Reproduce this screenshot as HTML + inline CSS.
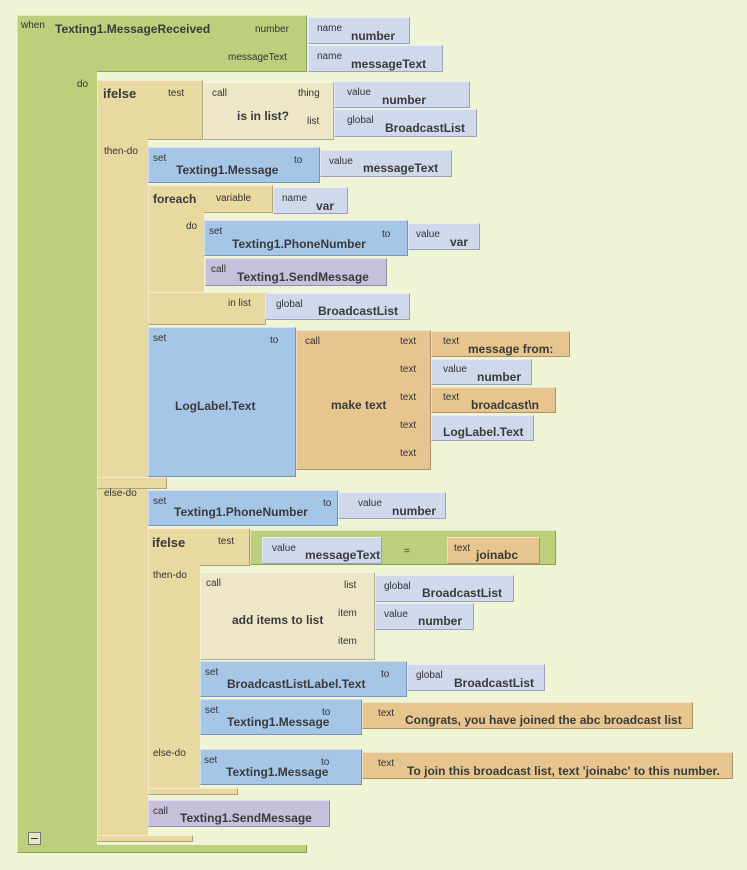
<!DOCTYPE html>
<html><head><meta charset="utf-8"><style>
body{margin:0;width:747px;height:870px;background:#eef4d4;position:relative;overflow:hidden;font-family:"Liberation Sans",sans-serif;color:#333}
.b{position:absolute;box-sizing:border-box;border:1px solid rgba(0,0,0,.25);border-top-color:rgba(255,255,255,.5);border-left-color:rgba(255,255,255,.4)}
.g{background:#bccf7c}.t{background:#e8d9a1}.c{background:#ede7c8}.bl{background:#a6c6e7}.l{background:#d0d8ec}.o{background:#e6c58f}.p{background:#c7c0dd}
.s{position:absolute;font-size:10px;color:#333;white-space:nowrap}
.k{position:absolute;font-size:12px;font-weight:bold;color:#3a3a3a;white-space:nowrap}
</style></head><body>
<!-- green event -->
<div class="b g" style="left:17px;top:15px;width:290px;height:57px"></div>
<div class="b g" style="left:17px;top:15px;width:80px;height:838px;border-right:none"></div>
<div class="b g" style="left:17px;top:845px;width:290px;height:8px;border-top:none"></div>
<div class="s" style="left:21px;top:20px">when</div>
<div class="k" style="left:55px;top:22px">Texting1.MessageReceived</div>
<div class="s" style="left:255px;top:24px">number</div>
<div class="s" style="left:228px;top:52px">messageText</div>
<div class="s" style="left:77px;top:79px">do</div>
<div class="b l" style="left:308px;top:17px;width:102px;height:27px"></div>
<div class="s" style="left:317px;top:23px">name</div><div class="k" style="left:351px;top:29px">number</div>
<div class="b l" style="left:308px;top:45px;width:135px;height:27px"></div>
<div class="s" style="left:317px;top:51px">name</div><div class="k" style="left:351px;top:57px">messageText</div>
<div class="b" style="left:28px;top:832px;width:13px;height:13px;background:#e8e8c8;border:1px solid #777"></div>
<div style="position:absolute;left:31px;top:838px;width:7px;height:1px;background:#333"></div>

<!-- outer ifelse -->
<div class="b t" style="left:97px;top:80px;width:106px;height:60px"></div>
<div class="b t" style="left:97px;top:80px;width:51px;height:762px;border-right:none"></div>
<div class="b t" style="left:97px;top:477px;width:70px;height:12px"></div>
<div class="b t" style="left:97px;top:835px;width:96px;height:7px"></div>
<div class="k" style="left:103px;top:86px;font-size:13px">ifelse</div>
<div class="s" style="left:168px;top:88px">test</div>
<div class="s" style="left:104px;top:146px">then-do</div>
<div class="s" style="left:104px;top:488px">else-do</div>
<div class="b c" style="left:203px;top:82px;width:131px;height:58px"></div>
<div class="s" style="left:212px;top:88px">call</div>
<div class="k" style="left:237px;top:109px">is in list?</div>
<div class="s" style="left:298px;top:88px">thing</div>
<div class="s" style="left:307px;top:116px">list</div>
<div class="b l" style="left:334px;top:81px;width:136px;height:27px"></div>
<div class="s" style="left:347px;top:87px">value</div><div class="k" style="left:382px;top:93px">number</div>
<div class="b l" style="left:334px;top:109px;width:143px;height:28px"></div>
<div class="s" style="left:347px;top:115px">global</div><div class="k" style="left:385px;top:121px">BroadcastList</div>

<!-- set Texting1.Message -->
<div class="b bl" style="left:148px;top:147px;width:172px;height:36px"></div>
<div class="s" style="left:153px;top:153px">set</div><div class="k" style="left:176px;top:163px">Texting1.Message</div>
<div class="s" style="left:294px;top:155px">to</div>
<div class="b l" style="left:320px;top:150px;width:132px;height:27px"></div>
<div class="s" style="left:329px;top:156px">value</div><div class="k" style="left:363px;top:161px">messageText</div>

<!-- foreach -->
<div class="b t" style="left:148px;top:185px;width:125px;height:28px"></div>
<div class="b t" style="left:148px;top:185px;width:56px;height:140px;border-right:none"></div>
<div class="b t" style="left:148px;top:292px;width:118px;height:33px"></div>
<div class="k" style="left:153px;top:192px">foreach</div>
<div class="s" style="left:216px;top:193px">variable</div>
<div class="s" style="left:186px;top:221px">do</div>
<div class="s" style="left:228px;top:298px">in list</div>
<div class="b l" style="left:273px;top:187px;width:75px;height:27px"></div>
<div class="s" style="left:282px;top:193px">name</div><div class="k" style="left:316px;top:199px">var</div>
<div class="b bl" style="left:204px;top:220px;width:204px;height:36px"></div>
<div class="s" style="left:209px;top:226px">set</div><div class="k" style="left:232px;top:237px">Texting1.PhoneNumber</div>
<div class="s" style="left:382px;top:229px">to</div>
<div class="b l" style="left:408px;top:223px;width:72px;height:27px"></div>
<div class="s" style="left:416px;top:229px">value</div><div class="k" style="left:450px;top:235px">var</div>
<div class="b p" style="left:205px;top:258px;width:182px;height:28px"></div>
<div class="s" style="left:211px;top:264px">call</div><div class="k" style="left:237px;top:270px">Texting1.SendMessage</div>
<div class="b l" style="left:265px;top:293px;width:145px;height:27px"></div>
<div class="s" style="left:276px;top:299px">global</div><div class="k" style="left:318px;top:304px">BroadcastList</div>

<!-- set LogLabel.Text -->
<div class="b bl" style="left:148px;top:327px;width:148px;height:150px"></div>
<div class="s" style="left:153px;top:333px">set</div>
<div class="s" style="left:270px;top:335px">to</div>
<div class="k" style="left:175px;top:399px">LogLabel.Text</div>
<div class="b o" style="left:296px;top:330px;width:135px;height:140px"></div>
<div class="s" style="left:305px;top:336px">call</div>
<div class="k" style="left:331px;top:398px">make text</div>
<div class="s" style="left:400px;top:336px">text</div>
<div class="s" style="left:400px;top:364px">text</div>
<div class="s" style="left:400px;top:392px">text</div>
<div class="s" style="left:400px;top:420px">text</div>
<div class="s" style="left:400px;top:448px">text</div>
<div class="b o" style="left:431px;top:331px;width:139px;height:26px"></div>
<div class="s" style="left:443px;top:336px">text</div><div class="k" style="left:468px;top:342px">message from:</div>
<div class="b l" style="left:431px;top:359px;width:101px;height:26px"></div>
<div class="s" style="left:443px;top:364px">value</div><div class="k" style="left:477px;top:370px">number</div>
<div class="b o" style="left:431px;top:387px;width:125px;height:26px"></div>
<div class="s" style="left:443px;top:392px">text</div><div class="k" style="left:471px;top:398px">broadcast\n</div>
<div class="b l" style="left:431px;top:415px;width:103px;height:26px"></div>
<div class="k" style="left:443px;top:425px">LogLabel.Text</div>

<!-- else: set Texting1.PhoneNumber -->
<div class="b bl" style="left:148px;top:490px;width:190px;height:36px"></div>
<div class="s" style="left:153px;top:496px">set</div><div class="k" style="left:174px;top:505px">Texting1.PhoneNumber</div>
<div class="s" style="left:323px;top:498px">to</div>
<div class="b l" style="left:338px;top:492px;width:108px;height:27px"></div>
<div class="s" style="left:358px;top:498px">value</div><div class="k" style="left:392px;top:504px">number</div>

<!-- inner ifelse -->
<div class="b t" style="left:148px;top:528px;width:102px;height:38px"></div>
<div class="b t" style="left:148px;top:528px;width:52px;height:267px;border-right:none"></div>
<div class="b t" style="left:148px;top:788px;width:90px;height:7px"></div>
<div class="k" style="left:152px;top:535px;font-size:13px">ifelse</div>
<div class="s" style="left:218px;top:536px">test</div>
<div class="s" style="left:153px;top:570px">then-do</div>
<div class="s" style="left:153px;top:748px">else-do</div>
<div class="b g" style="left:250px;top:530px;width:306px;height:35px"></div>
<div class="b l" style="left:262px;top:537px;width:120px;height:27px"></div>
<div class="s" style="left:272px;top:543px">value</div><div class="k" style="left:305px;top:548px">messageText</div>
<div class="s" style="left:370px;top:546px;left:371px"></div>
<div class="s" style="left:371px;top:546px"></div>
<div class="s" style="left:371px;top:546px"></div>
<div class="s" style="left:371px;top:546px"></div>
<div class="s" style="left:372px;top:546px"></div>
<div class="s" style="left:404px;top:546px">=</div>
<div class="b o" style="left:406px;top:537px;width:0;height:0;border:none"></div>
<div class="b o" style="left:407px;top:536px;width:0;border:none"></div>
<div class="b o" style="left:407px;top:536px;width:0;border:none"></div>
<div class="b o" style="left:407px;top:536px;width:0;border:none"></div>
<div class="b o" style="left:407px;top:536px;width:0;border:none"></div>
<div class="b o" style="left:407px;top:536px;width:0;border:none"></div>
<div class="b o" style="left:407px;top:536px;width:0;border:none"></div>
<div class="b o" style="left:407px;top:536px;width:0;border:none"></div>
<div class="b o" style="left:407px;top:536px;width:0;border:none"></div>
<div class="b o" style="left:447px;top:537px;width:93px;height:27px"></div>
<div class="s" style="left:454px;top:543px">text</div><div class="k" style="left:476px;top:548px">joinabc</div>

<div class="b c" style="left:200px;top:572px;width:175px;height:88px"></div>
<div class="s" style="left:206px;top:578px">call</div>
<div class="k" style="left:232px;top:613px">add items to list</div>
<div class="s" style="left:344px;top:580px">list</div>
<div class="s" style="left:338px;top:608px">item</div>
<div class="s" style="left:338px;top:636px">item</div>
<div class="b l" style="left:375px;top:575px;width:139px;height:27px"></div>
<div class="s" style="left:384px;top:581px">global</div><div class="k" style="left:422px;top:586px">BroadcastList</div>
<div class="b l" style="left:375px;top:603px;width:99px;height:27px"></div>
<div class="s" style="left:384px;top:609px">value</div><div class="k" style="left:418px;top:614px">number</div>

<div class="b bl" style="left:200px;top:661px;width:207px;height:36px"></div>
<div class="s" style="left:205px;top:667px">set</div><div class="k" style="left:227px;top:677px">BroadcastListLabel.Text</div>
<div class="s" style="left:381px;top:669px">to</div>
<div class="b l" style="left:407px;top:664px;width:138px;height:27px"></div>
<div class="s" style="left:416px;top:670px">global</div><div class="k" style="left:454px;top:676px">BroadcastList</div>

<div class="b bl" style="left:200px;top:699px;width:162px;height:36px"></div>
<div class="s" style="left:205px;top:705px">set</div><div class="k" style="left:227px;top:715px">Texting1.Message</div>
<div class="s" style="left:322px;top:707px">to</div>
<div class="b o" style="left:362px;top:702px;width:331px;height:27px"></div>
<div class="s" style="left:378px;top:708px">text</div><div class="k" style="left:405px;top:713px">Congrats, you have joined the abc broadcast list</div>

<div class="b bl" style="left:200px;top:749px;width:162px;height:36px"></div>
<div class="s" style="left:204px;top:755px">set</div><div class="k" style="left:226px;top:765px">Texting1.Message</div>
<div class="s" style="left:321px;top:757px">to</div>
<div class="b o" style="left:362px;top:752px;width:371px;height:27px"></div>
<div class="s" style="left:378px;top:758px">text</div><div class="k" style="left:407px;top:764px">To join this broadcast list, text 'joinabc' to this number.</div>

<div class="b p" style="left:148px;top:800px;width:182px;height:27px"></div>
<div class="s" style="left:153px;top:806px">call</div><div class="k" style="left:180px;top:811px">Texting1.SendMessage</div>
</body></html>
